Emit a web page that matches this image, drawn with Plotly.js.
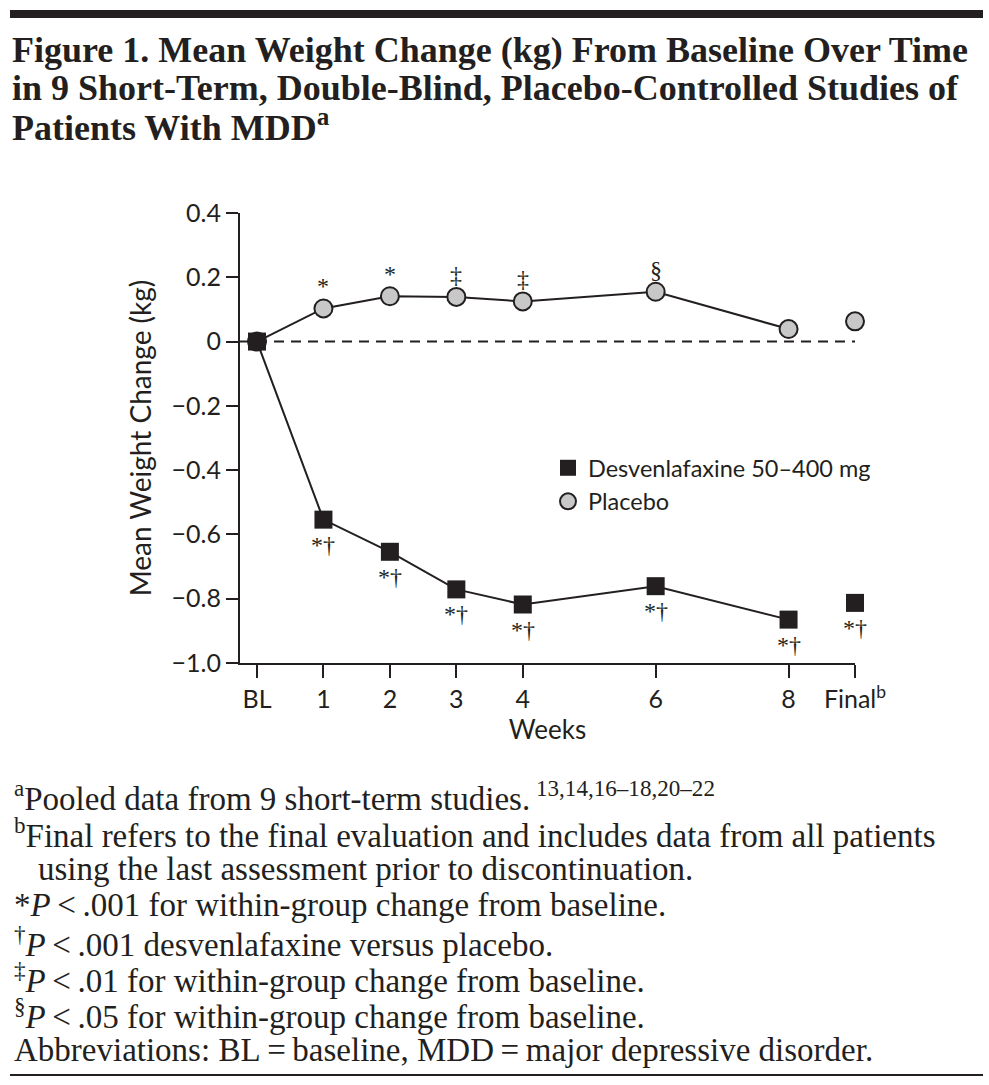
<!DOCTYPE html>
<html><head><meta charset="utf-8">
<script src="https://cdn.plot.ly/plotly-3.0.1.min.js"></script>
<style>html,body{margin:0;padding:0;background:#fff}</style>
</head><body><div id="chart" style="width:989px;height:1085px"></div>
<script>
// ---- data ----
const weeks = [0, 1, 2, 3, 4, 6, 8];
const finalWeek = [9];
const tickVals = [0, 1, 2, 3, 4, 6, 8, 9];
const tickText = ['BL', '1', '2', '3', '4', '6', '8', 'Final<sup>b</sup>'];
const yTickVals = [0.4, 0.2, 0, -0.2, -0.4, -0.6, -0.8, -1.0];
const yTickText = ['0.4', '0.2', '0', '\u22120.2', '\u22120.4', '\u22120.6', '\u22120.8', '\u22121.0'];
const desvValues = [0, -0.554, -0.654, -0.771, -0.818, -0.761, -0.865];
const desvFinal = [-0.813];
const placeboValues = [0, 0.103, 0.141, 0.139, 0.125, 0.155, 0.039];
const placeboFinal = [0.063];
const placeboSig = ['', '*', '*', '\u2021', '\u2021', '\u00a7', ''];
const desvSig = ['', '*\u2020', '*\u2020', '*\u2020', '*\u2020', '*\u2020', '*\u2020'];
const desvFinalSig = ['*\u2020'];
const seriesNames = ['Desvenlafaxine 50\u2013400 mg', 'Placebo'];
const titleLines = [
  'Figure 1. Mean Weight Change (kg) From Baseline Over Time',
  'in 9 Short-Term, Double-Blind, Placebo-Controlled Studies of',
  'Patients With MDD<sup>a</sup>'
];
const footLines = [
  '<sup>a</sup>Pooled data from 9 short-term studies.<sup> 13,14,16\u201318,20\u201322</sup>',
  '<sup>b</sup>Final refers to the final evaluation and includes data from all patients',
  '   using the last assessment prior to discontinuation.',
  '*<i>P</i>\u2009<\u2009.001 for within-group change from baseline.',
  '<sup>\u2020</sup><i>P</i>\u2009<\u2009.001 desvenlafaxine versus placebo.',
  '<sup>\u2021</sup><i>P</i>\u2009<\u2009.01 for within-group change from baseline.',
  '<sup>\u00a7</sup><i>P</i>\u2009<\u2009.05 for within-group change from baseline.',
  'Abbreviations: BL\u2009=\u2009baseline, MDD\u2009=\u2009major depressive disorder.'
];

// ---- layout geometry ----
const W = 989, H = 1085;
const M = {l: 240, r: 134, t: 213, b: 422};
const PW = W - M.l - M.r, PH = H - M.t - M.b;
const px = x => (x - M.l) / PW;
const py = y => (H - M.b - y) / PH;
const INK = '#231f20';
const SANS = 'Lato, "Open Sans", sans-serif';
const SERIF = '"Liberation Serif", "DejaVu Serif", serif';
const xRange = [-0.256, 9];

const traces = [
  {x: weeks, y: placeboValues, type: 'scatter', mode: 'lines+markers', showlegend: false, cliponaxis: false,
   line: {color: INK, width: 2}, marker: {symbol: 'circle', size: 18, color: '#c8c8c8', line: {color: INK, width: 2}}},
  {x: weeks, y: desvValues, type: 'scatter', mode: 'lines+markers', showlegend: false, cliponaxis: false,
   line: {color: INK, width: 2}, marker: {symbol: 'square', size: 18, color: INK, line: {width: 0}}},
  {x: finalWeek, y: placeboFinal, type: 'scatter', mode: 'markers', name: seriesNames[1], legendrank: 2, cliponaxis: false,
   marker: {symbol: 'circle', size: 18, color: '#c8c8c8', line: {color: INK, width: 2}}},
  {x: finalWeek, y: desvFinal, type: 'scatter', mode: 'markers', name: seriesNames[0], legendrank: 1, cliponaxis: false,
   marker: {symbol: 'square', size: 18, color: INK, line: {width: 0}}}
];

const annotations = [];
const sigFont = {family: SERIF, size: 24, color: INK};
weeks.forEach((w, i) => {
  if (placeboSig[i]) annotations.push({x: w, y: placeboValues[i], xref: 'x', yref: 'y', text: placeboSig[i], showarrow: false,
    yanchor: 'bottom', yshift: 7, font: sigFont});
  if (desvSig[i]) annotations.push({x: w, y: desvValues[i], xref: 'x', yref: 'y', text: desvSig[i], showarrow: false,
    yanchor: 'top', yshift: -10, font: sigFont});
});
finalWeek.forEach((w, i) => annotations.push({x: w, y: desvFinal[i], xref: 'x', yref: 'y', text: desvFinalSig[i], showarrow: false,
  yanchor: 'top', yshift: -10, font: sigFont}));

const titleY = [50, 88, 126];
titleLines.forEach((t, i) => annotations.push({xref: 'paper', yref: 'paper', x: px(10), y: py(titleY[i]), xanchor: 'left', yanchor: 'middle',
  text: t, showarrow: false, font: {family: SERIF, size: 36, color: INK, weight: 'bold'}}));
const footY = [796, 833, 869, 905, 942, 978, 1014, 1050];
footLines.forEach((t, i) => annotations.push({xref: 'paper', yref: 'paper', x: px(i === 2 ? 36 : 12), y: py(footY[i]), xanchor: 'left', yanchor: 'middle',
  text: t.replace(/^ +/, ''), showarrow: false, font: {family: SERIF, size: 33, color: INK}}));

const shapes = [
  {type: 'line', xref: 'x', yref: 'y', x0: xRange[0], x1: finalWeek[0], y0: 0, y1: 0, layer: 'below',
   line: {color: INK, width: 2, dash: '10px,7px'}},
  {type: 'rect', xref: 'paper', yref: 'paper', x0: px(10), x1: px(983), y0: py(10), y1: py(18), fillcolor: INK, line: {width: 0}},
  {type: 'line', xref: 'paper', yref: 'paper', x0: px(10), x1: px(983), y0: py(1075), y1: py(1075), line: {color: INK, width: 2}}
];

const layout = {
  width: W, height: H, margin: M, paper_bgcolor: '#fff', plot_bgcolor: '#fff',
  showlegend: true,
  legend: {x: px(548), y: py(446), xanchor: 'left', yanchor: 'top', bgcolor: 'rgba(0,0,0,0)',
    font: {family: SANS, size: 23.5, color: INK}, traceorder: 'normal'},
  xaxis: {range: xRange, tickvals: tickVals, ticktext: tickText, showgrid: false, zeroline: false,
    showline: true, linecolor: INK, linewidth: 2, ticks: 'outside', ticklen: 13, tickwidth: 2, tickcolor: INK,
    tickfont: {family: SANS, size: 25, color: INK},
    title: {text: 'Weeks', font: {family: SANS, size: 26, color: INK}, standoff: 4}},
  yaxis: {range: [-1.0, 0.4], tickvals: yTickVals, ticktext: yTickText, showgrid: false, zeroline: false,
    showline: true, linecolor: INK, linewidth: 2, ticks: 'outside', ticklen: 12, tickwidth: 2, tickcolor: INK,
    tickfont: {family: SANS, size: 25, color: INK},
    title: {text: 'Mean Weight Change (kg)', font: {family: SANS, size: 28, color: INK}, standoff: 12}},
  annotations: annotations, shapes: shapes
};

Plotly.newPlot('chart', traces, layout, {displayModeBar: false, staticPlot: true});
</script></body></html>
